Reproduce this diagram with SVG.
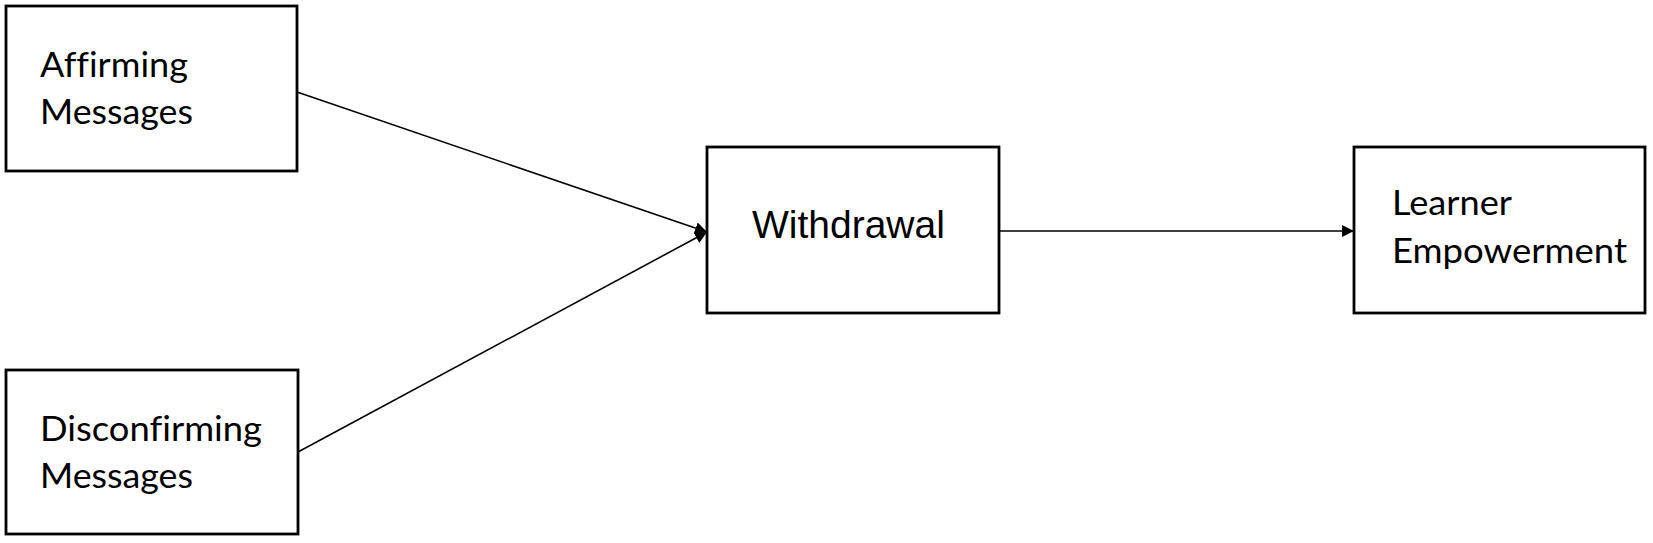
<svg xmlns="http://www.w3.org/2000/svg" width="1653" height="543" viewBox="0 0 1653 543">
<style>
.box{fill:#fff;stroke:#000;stroke-width:2.8}
.lbl{font-family:Lato,"Liberation Sans",sans-serif;font-size:34px;fill:#000;font-variant-ligatures:none}
.lbl2{font-family:"Liberation Sans",Arial,sans-serif;font-size:39px;fill:#000}
.conn{stroke:#000;stroke-width:1.6;fill:none}
</style>
<defs>
<marker id="ah" markerUnits="userSpaceOnUse" markerWidth="12" markerHeight="12" refX="12" refY="6" orient="auto">
<path d="M0,0 L12,6 L0,12 z" fill="#000"/>
</marker>
</defs>
<rect width="1653" height="543" fill="#fff"/>
<g id="connectors">
<line class="conn" x1="297" y1="92" x2="707" y2="232" marker-end="url(#ah)"/>
<line class="conn" x1="298" y1="452" x2="707" y2="232" marker-end="url(#ah)"/>
<line class="conn" x1="999" y1="231" x2="1354" y2="231" marker-end="url(#ah)"/>
</g>
<g id="affirming">
<rect class="box" x="6" y="6" width="291" height="165"/>
<text class="lbl" x="40" y="77" textLength="148" lengthAdjust="spacingAndGlyphs">Affirming</text>
<text class="lbl" x="40" y="124" textLength="153" lengthAdjust="spacingAndGlyphs">Messages</text>
</g>
<g id="disconfirming">
<rect class="box" x="6" y="370" width="292" height="164"/>
<text class="lbl" x="40" y="441" textLength="222" lengthAdjust="spacingAndGlyphs">Disconfirming</text>
<text class="lbl" x="40" y="488" textLength="153" lengthAdjust="spacingAndGlyphs">Messages</text>
</g>
<g id="withdrawal">
<rect class="box" x="707" y="147" width="292" height="166"/>
<text class="lbl2" x="752" y="238">Withdrawal</text>
</g>
<g id="learner">
<rect class="box" x="1354" y="147" width="291" height="166"/>
<text class="lbl" x="1392" y="215" textLength="120" lengthAdjust="spacingAndGlyphs">Learner</text>
<text class="lbl" x="1392" y="263" textLength="235" lengthAdjust="spacingAndGlyphs">Empowerment</text>
</g>
</svg>
